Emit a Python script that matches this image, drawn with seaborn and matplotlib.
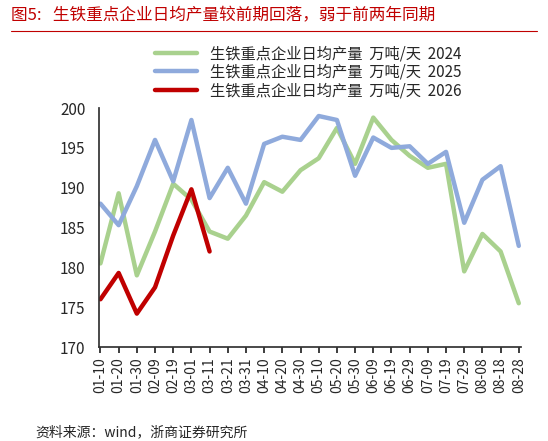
import matplotlib
matplotlib.use("Agg")
import matplotlib.pyplot as plt
import pandas as pd
import seaborn as sns

dates = ["01-10", "01-20", "01-30", "02-09", "02-19", "03-01", "03-11", "03-21",
         "03-31", "04-10", "04-20", "04-30", "05-10", "05-20", "05-30", "06-09",
         "06-19", "06-29", "07-09", "07-19", "07-29", "08-08", "08-18", "08-28"]
y2024 = [180.5, 189.3, 179.0, 184.5, 190.5, 188.5, 184.5, 183.6, 186.5, 190.7, 189.5, 192.2,
         193.7, 197.5, 193.0, 198.8, 196.0, 194.0, 192.5, 193.0, 179.5, 184.2, 182.0, 175.5]
y2025 = [188.0, 185.3, 190.2, 196.0, 190.8, 198.5, 188.7, 192.5, 188.0, 195.5, 196.4, 196.0,
         199.0, 198.5, 191.5, 196.3, 195.0, 195.2, 193.0, 194.5, 185.6, 191.0, 192.7, 182.7]
y2026 = [176.0, 179.3, 174.2, 177.5, 184.0, 189.8, 182.0]

sns.set_theme(style="white")
plt.rcParams["font.family"] = ["Noto Sans CJK SC", "DejaVu Sans"]

label = "生铁重点企业日均产量  万吨/天  "
rows = []
for yr, vals in [("2024", y2024), ("2025", y2025), ("2026", y2026)]:
    for i, v in enumerate(vals):
        rows.append({"x": i, "v": v, "s": label + yr})
df = pd.DataFrame(rows)

fig, ax = plt.subplots(figsize=(5.48, 4.41), dpi=100)
palette = {label + "2024": "#a9d18e", label + "2025": "#8faadc", label + "2026": "#c00000"}
sns.lineplot(data=df, x="x", y="v", hue="s", palette=palette, linewidth=3.2, ax=ax)

ax.set_xlim(-0.1, len(dates) - 0.9)
ax.set_ylim(170, 200)
ax.set_yticks(range(170, 201, 5))
ax.set_xticks(range(len(dates)))
ax.set_xticklabels(dates, rotation=90, fontsize=10)
ax.tick_params(axis="y", labelsize=11)
ax.tick_params(axis="x", length=4, direction="out", bottom=True)
ax.set_xlabel("")
ax.set_ylabel("")
for s in ["top", "right"]:
    ax.spines[s].set_visible(False)
for s in ["left", "bottom"]:
    ax.spines[s].set_color("#333333")
ax.legend(loc="upper left", bbox_to_anchor=(0.1, 1.32), frameon=False, fontsize=11,
          handlelength=2.8, labelspacing=0.1)

fig.text(0.02, 0.955, "图5:   生铁重点企业日均产量较前期回落，弱于前两年同期",
         color="#c00000", fontsize=12)
fig.add_artist(plt.Line2D([0.02, 0.98], [0.93, 0.93], color="#c00000", linewidth=0.8))
fig.text(0.065, 0.01, "资料来源：wind，浙商证券研究所", fontsize=10)

plt.subplots_adjust(left=0.18, right=0.95, top=0.755, bottom=0.213)
fig.savefig("out.png", dpi=100)
